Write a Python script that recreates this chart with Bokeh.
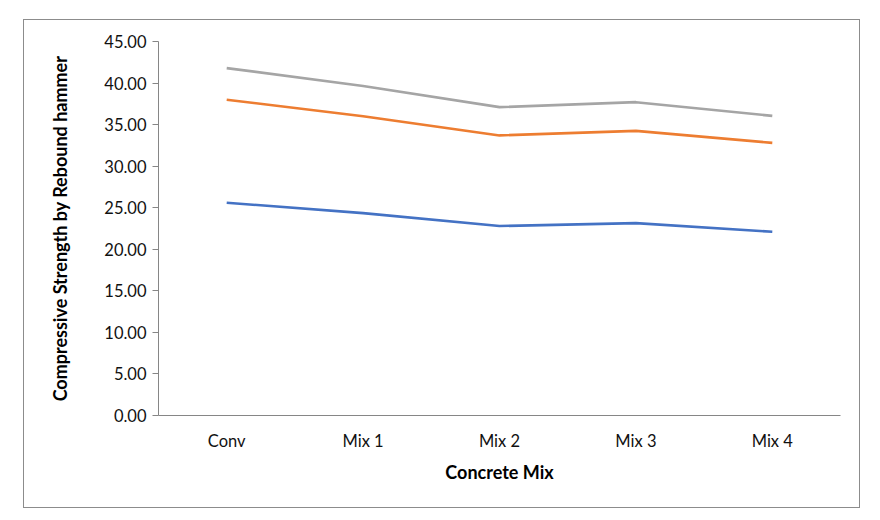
from bokeh.plotting import figure
from bokeh.models import FactorRange, Range1d, NumeralTickFormatter, SingleIntervalTicker
from bokeh.embed import file_html
from bokeh.resources import INLINE

categories = ["Conv", "Mix 1", "Mix 2", "Mix 3", "Mix 4"]
series_blue = [25.6, 24.35, 22.8, 23.15, 22.1]
series_orange = [38.0, 36.0, 33.7, 34.25, 32.8]
series_gray = [41.8, 39.65, 37.1, 37.7, 36.05]
colors = ["#4472C4", "#ED7D31", "#A5A5A5"]
y_title = "Compressive Strength by Rebound hammer"
x_title = "Concrete Mix"

FONT = "Lato"

p = figure(width=835, height=487, x_range=FactorRange(*categories, range_padding=0),
           y_range=Range1d(0, 45), output_backend="svg", toolbar_location=None,
           min_border_left=134, min_border_right=21, min_border_top=21, min_border_bottom=94)
p.margin = (19, 0, 0, 23)
p.styles = {"border": "1px solid #8c8c8c", "box-sizing": "content-box"}

for vals, c in zip([series_blue, series_orange, series_gray], colors):
    p.line(categories, vals, line_color=c, line_width=2.6)

p.xgrid.visible = False
p.ygrid.visible = False
p.outline_line_color = None

p.yaxis.ticker = SingleIntervalTicker(interval=5)
p.yaxis.formatter = NumeralTickFormatter(format="0.00")
for ax in (p.xaxis[0], p.yaxis[0]):
    ax.axis_line_color = "#868686"
    ax.axis_line_width = 1
    ax.major_tick_line_color = "#868686"
    ax.minor_tick_line_color = None
    ax.major_label_text_font = FONT
    ax.major_label_text_font_size = "16.5px"
    ax.major_label_text_color = "#111111"
    ax.axis_label_text_font = FONT
    ax.axis_label_text_font_size = "18px"
    ax.axis_label_text_font_style = "bold"
    ax.axis_label_text_color = "#000000"

p.yaxis.major_tick_in = 0
p.yaxis.major_tick_out = 6
p.yaxis.major_label_standoff = 6
p.yaxis.axis_label = y_title
p.yaxis.axis_label_standoff = 30

p.xaxis.major_tick_in = 0
p.xaxis.major_tick_out = 0
p.xaxis.major_label_standoff = 15
p.xaxis.axis_label = x_title
p.xaxis.axis_label_standoff = 7

open("out.html", "w").write(file_html(p, INLINE))
